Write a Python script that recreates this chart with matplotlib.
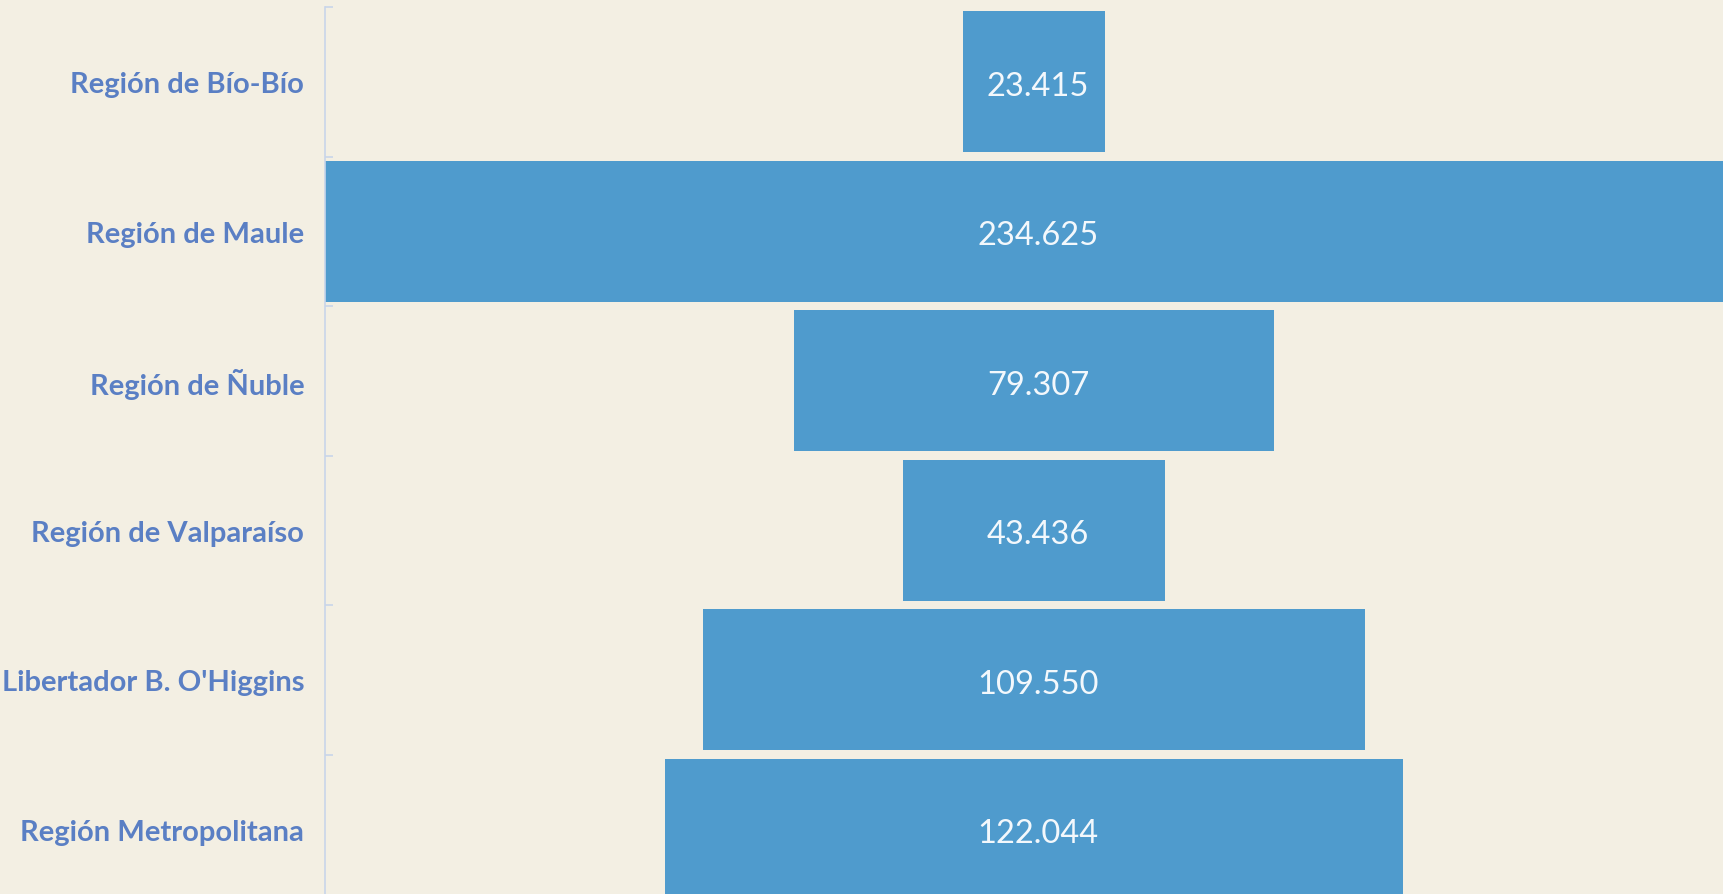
import matplotlib.pyplot as plt
import matplotlib.transforms as mtransforms
import numpy as np

# data
regions = ['Región de Bío-Bío', 'Región de Maule', 'Región de Ñuble',
           'Región de Valparaíso', "Libertador B. O'Higgins", 'Región Metropolitana']
values = [23.415, 234.625, 79.307, 43.436, 109.550, 122.044]
value_labels = ['23.415', '234.625', '79.307', '43.436', '109.550', '122.044']

paper = '#f3efe3'
bar_color = '#4f9bcd'
label_color = '#5a7fc4'
axis_color = '#c8d5ea'

W, H = 1723, 895
fig = plt.figure(figsize=(W / 100, H / 100), dpi=100)
fig.patch.set_facecolor(paper)

# axes run a bit past the right and bottom edges, as in the original
ax = fig.add_axes([325 / W, -10 / H, 1418 / W, 897 / H])
ax.set_facecolor('none')

vals = np.array(values)
ypos = np.arange(len(regions))
ax.barh(ypos, vals, left=-vals / 2, height=0.94, color=bar_color, lw=0)

half = vals.max() / 2
ax.set_xlim(-half, half)
ax.set_ylim(len(regions) - 0.5, -0.5)

# value labels in the middle of each bar (nudged slightly right/down)
offset = mtransforms.ScaledTranslation(3 / 72, -3 / 72, fig.dpi_scale_trans)
for y, lbl in zip(ypos, value_labels):
    ax.text(0, y, lbl, ha='center', va='center', color='#f3f8fc',
            fontsize=23.5, family=['Lato', 'DejaVu Sans'],
            transform=ax.transData + offset)

# category axis
ax.set_yticks(ypos)
ax.set_yticklabels(regions, fontsize=21, fontweight='bold', color=label_color,
                   family=['Lato', 'DejaVu Sans'])
ax.tick_params(axis='y', which='major', length=0, pad=15)
ax.set_yticks(np.arange(len(regions) + 1) - 0.5, minor=True)
ax.tick_params(axis='y', which='minor', direction='in', length=6,
               color=axis_color, width=1.2)
ax.set_xticks([])

for s in ['top', 'right', 'bottom']:
    ax.spines[s].set_visible(False)
ax.spines['left'].set_color(axis_color)
ax.spines['left'].set_linewidth(1.2)

fig.savefig('out.png', dpi=100, facecolor=fig.get_facecolor())
